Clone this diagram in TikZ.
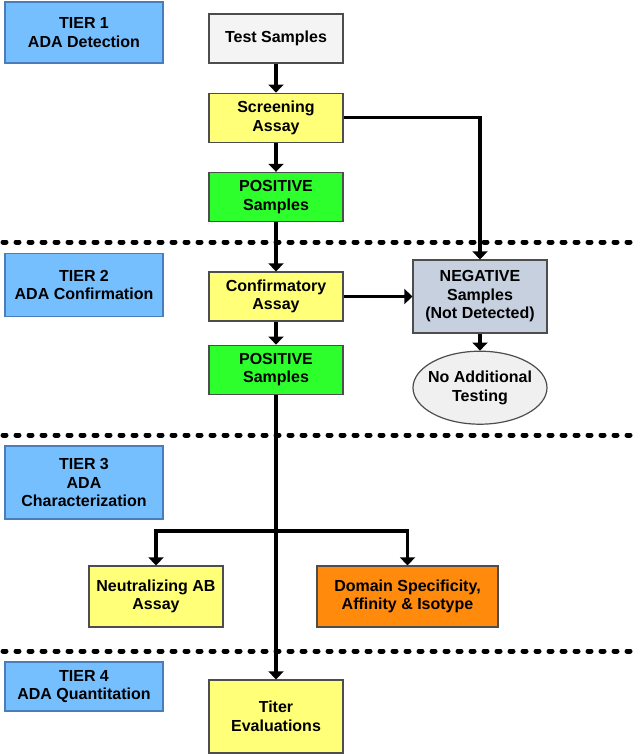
\documentclass[tikz,border=0pt]{standalone}
\usepackage{fontspec}
\setmainfont{Liberation Sans}
\usepackage{xcolor}
\usetikzlibrary{arrows.meta,positioning,shapes.geometric}

\definecolor{tierblue}{HTML}{75BFFF}
\definecolor{tieredge}{HTML}{4A7EBB}
\definecolor{boxedge}{HTML}{4D4D4D}
\definecolor{testgray}{HTML}{F4F4F4}
\definecolor{assayyellow}{HTML}{FFFF78}
\definecolor{posgreen}{HTML}{2CFF2C}
\definecolor{neggray}{HTML}{C6D0DE}
\definecolor{ellgray}{HTML}{F0F0F0}
\definecolor{domorange}{HTML}{FF8A0C}

\begin{document}
\begin{tikzpicture}[
    x=1pt, y=-1pt,
    font=\fontsize{16}{18.5}\selectfont\bfseries,
    box/.style={draw=boxedge, line width=1.2pt, minimum width=134pt, minimum height=49pt, align=center, inner sep=2pt},
    tier/.style={draw=tieredge, line width=1.2pt, fill=tierblue, minimum width=158pt, align=center, inner sep=2pt},
    arrow/.style={-{Triangle[width=15pt,length=8pt]}, line width=3.5pt},
    divider/.style={line width=5pt, dash pattern=on 3pt off 10pt, line cap=round}
]
    \useasboundingbox (0,0) rectangle (637,755);

    % tier labels
    \node[tier, minimum height=61pt] (tier1) at (84,32.5) {TIER 1\\ADA Detection};
    \node[tier, minimum height=63pt] (tier2) at (84,285) {TIER 2\\ADA Confirmation};
    \node[tier, minimum height=73pt] (tier3) at (84,482.5) {TIER 3\\ADA\\Characterization};
    \node[tier, minimum height=49pt] (tier4) at (84,686.5) {TIER 4\\ADA Quantitation};

    % tier separators
    \draw[divider] (3,242) -- (637,242);
    \draw[divider] (3,435) -- (637,435);
    \draw[divider] (3,651) -- (637,651);

    % main flow
    \node[box, fill=testgray] (test) at (276,38.5) {Test Samples};
    \node[box, fill=assayyellow, below=29pt of test] (screen) {Screening\\Assay};
    \node[box, fill=posgreen, below=29pt of screen] (pos1) {POSITIVE\\Samples};
    \node[box, fill=assayyellow] (conf) at (276,296.5) {Confirmatory\\Assay};
    \node[box, fill=posgreen, below=23pt of conf] (pos2) {POSITIVE\\Samples};
    \node[box, fill=neggray, minimum height=73pt] (neg) at (480,296.5) {NEGATIVE\\Samples\\(Not Detected)};
    \node[ellipse, draw=boxedge, line width=1.2pt, fill=ellgray, minimum width=134pt, minimum height=73pt, inner xsep=-6pt, inner ysep=0pt, align=center, below=17pt of neg] (noadd) {No Additional\\Testing};
    \node[box, fill=assayyellow, minimum width=134pt, minimum height=61pt] (neut) at (156,596.5) {Neutralizing AB\\Assay};
    \node[box, fill=domorange, minimum width=181pt, minimum height=61pt] (dom) at (407.5,596.5) {Domain Specificity,\\Affinity \& Isotype};
    \node[box, fill=assayyellow, minimum height=73pt] (titer) at (276,716.5) {Titer\\Evaluations};

    \coordinate (split) at (276,531);

    \draw[arrow] (test) -- (screen);
    \draw[arrow] (screen) -- (pos1);
    \draw[arrow] (pos1) -- (conf);
    \draw[arrow] (screen.east) -| (neg.north);
    \draw[arrow] (conf) -- (neg);
    \draw[arrow] (conf) -- (pos2);
    \draw[arrow] (neg) -- (noadd);
    \draw[arrow] (pos2) -- (titer);
    \draw[arrow] (split) -| (neut);
    \draw[arrow] (split) -| (dom);
\end{tikzpicture}
\end{document}
